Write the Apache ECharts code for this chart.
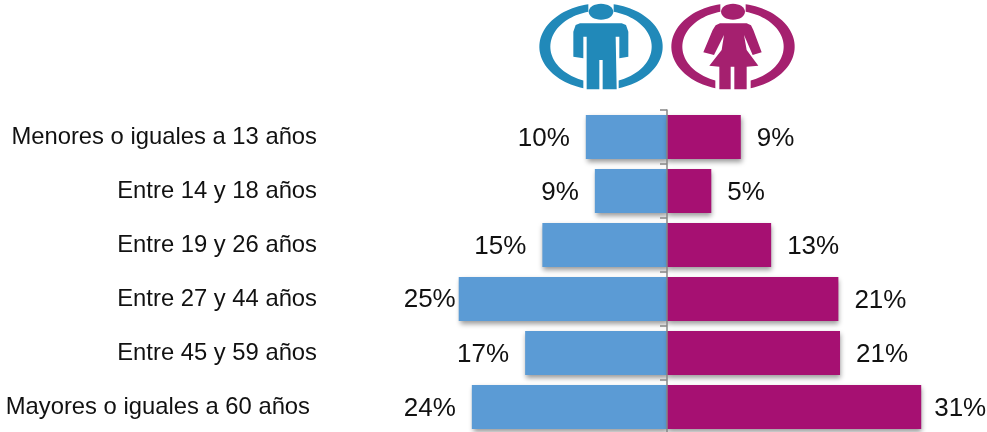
<!DOCTYPE html>
<html><head><meta charset="utf-8">
<style>html,body{margin:0;padding:0;background:#fff}#c{width:987px;height:432px}</style>
<script src="https://cdn.jsdelivr.net/npm/echarts@6/dist/echarts.min.js"></script>
</head><body><div id="c"></div>
<script>
const categories = ['Menores o iguales a 13 años','Entre 14 y 18 años','Entre 19 y 26 años','Entre 27 y 44 años','Entre 45 y 59 años','Mayores o iguales a 60 años'];
const menValues = [9.9, 8.8, 15.2, 25.4, 17.3, 23.8];
const womenValues = [9.0, 5.4, 12.7, 20.9, 21.1, 31.0];

const FONT = '"Liberation Sans", Arial, sans-serif';
const shadow = {shadowColor:'rgba(0,0,0,0.4)',shadowBlur:5,shadowOffsetX:1,shadowOffsetY:3};

// Decorative icons, in a local coordinate space three times the page scale
function crescent(cx, side){
  const pts=[], cy=140, a=38, b=53, n=48;
  const arc=(rx,ry,rev)=>{
    const t0=Math.asin(a/rx), t1=Math.PI-Math.asin(b/rx), out=[];
    for(let i=0;i<=n;i++){const t=t0+(t1-t0)*i/n; out.push([cx+side*rx*Math.sin(t), cy-ry*Math.cos(t)]);}
    return rev?out.reverse():out;
  };
  return pts.concat(arc(185,130,false),arc(152,108,true));
}
const manBody=[[180,70],[305,70],[318,75],[325,95],[325,170],[298,175],[298,110],[287,110],[290,268],[248,268],[248,180],[238,180],[238,268],[200,268],[200,110],[190,110],[190,175],[160,170],[160,95],[167,75]];
const womanBody=[[600,70],[680,70],[693,76],[700,90],[725,157],[698,165],[672,105],[680,150],[715,197],[680,200],[680,268],[643,268],[643,200],[632,200],[632,268],[598,268],[598,200],[568,197],[605,150],[612,105],[582,165],[550,157],[578,90],[587,76]];
function icon(cx,headRx,body,color){
  return [
    {type:'polygon',shape:{points:crescent(cx,-1)},style:{fill:color}},
    {type:'polygon',shape:{points:crescent(cx,1)},style:{fill:color}},
    {type:'ellipse',shape:{cx:cx,cy:35,rx:headRx,ry:24},style:{fill:color}},
    {type:'polygon',shape:{points:body},style:{fill:color}}
  ];
}

const chart = echarts.init(document.getElementById('c'),null,{renderer:'canvas'});
chart.setOption({
  animation:false,
  backgroundColor:'#fff',
  grid:{left:339,top:110,width:656,height:324,outerBoundsMode:'none'},
  xAxis:{type:'value',min:-40,max:40,show:false},
  yAxis:{
    type:'category',inverse:true,z:5,
    data:categories.map((c,i)=>i===5?{value:c,textStyle:{padding:[2,7,0,0]}}:c),
    axisLine:{onZero:true,lineStyle:{color:'#868686',width:1.5}},
    axisTick:{show:true,length:7,lineStyle:{color:'#868686',width:1.5}},
    axisLabel:{margin:22,interval:0,color:'#111',fontFamily:FONT,fontSize:23.8,align:'right',hideOverlap:false,padding:[4,0,0,0]}
  },
  series:[
    {type:'bar',name:'Hombres',barWidth:44,barGap:'-100%',
     itemStyle:Object.assign({color:'#5B9BD5'},shadow),
     label:{show:true,position:'left',distance:16,offset:[0,2],color:'#111',fontFamily:FONT,fontSize:26,
       formatter:p=>Math.round(-p.value)+'%'},
     data:menValues.map((v,i)=>i===3?{value:-v,label:{distance:3,offset:[0,1]}}:-v)},
    {type:'bar',name:'Mujeres',barWidth:44,
     itemStyle:Object.assign({color:'#A61072'},shadow),
     label:{show:true,position:'right',distance:16,offset:[0,2],color:'#111',fontFamily:FONT,fontSize:26,
       formatter:p=>Math.round(p.value)+'%'},
     data:womenValues.map((v,i)=>i===5?{value:v,label:{distance:13}}:v)}
  ],
  graphic:[{type:'group',x:520,y:0,scaleX:1/3,scaleY:1/3,silent:true,
    children:[].concat(icon(243,37,manBody,'#2189B9'),icon(639,36,womanBody,'#A5206F'))}]
});
</script></body></html>
